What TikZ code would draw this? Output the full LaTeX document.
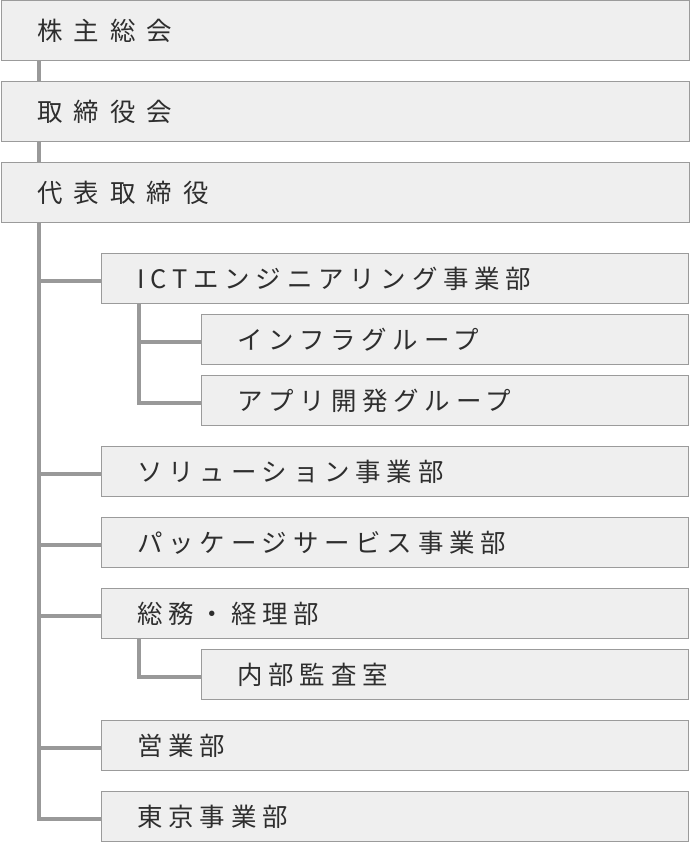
\documentclass[tikz,border=0pt]{standalone}
\usepackage{fontspec}
\newfontfamily\jpone{Noto Sans CJK JP}[LetterSpace=43.5]
\newfontfamily\jptwo{Noto Sans CJK JP}[LetterSpace=22.7]
\definecolor{boxfill}{HTML}{EFEFEF}
\definecolor{boxline}{HTML}{9B9B9B}
\definecolor{connline}{HTML}{999999}
\definecolor{txt}{HTML}{2E2E2E}
\begin{document}
\begin{tikzpicture}[x=0.75pt,y=-0.75pt,
  box/.style={draw=boxline, line width=0.75pt, fill=boxfill, anchor=north west,
    inner xsep=27pt, inner ysep=0pt, align=left, text=txt},
  lvlone/.style={box, minimum height=45pt, text width=462pt,
    font=\jpone\fontsize{19.1pt}{21pt}\selectfont},
  lvltwo/.style={box, minimum height=37.5pt, text width=386.25pt,
    font=\jptwo\fontsize{19.1pt}{21pt}\selectfont},
  lvlthree/.style={box, minimum height=37.5pt, text width=311.25pt,
    font=\jptwo\fontsize{19.1pt}{21pt}\selectfont},
  conn/.style={draw=connline, line width=2.8pt, line join=miter}
]
\useasboundingbox (0,0) rectangle (689,842);
\node[lvlone] (b1) at (0.5,0.5) {株主総会};
\node[lvlone] (b2) at (0.5,81) {取締役会};
\node[lvlone] (b3) at (0.5,162) {代表取締役};
\node[lvltwo] (ict) at (101,253) {ICTエンジニアリング事業部};
\node[lvlthree] (infra) at (201,314) {インフラグループ};
\node[lvlthree] (app) at (201,375) {アプリ開発グループ};
\node[lvltwo] (sol) at (101,446) {ソリューション事業部};
\node[lvltwo] (pkg) at (101,517) {パッケージサービス事業部};
\node[lvltwo] (gen) at (101,588) {総務・経理部};
\node[lvlthree] (aud) at (201,649) {内部監査室};
\node[lvltwo] (sales) at (101,720) {営業部};
\node[lvltwo] (tokyo) at (101,791) {東京事業部};
\coordinate (t) at (39,0);
\coordinate (s) at (139,0);
\draw[conn] (b1.south -| t) -- (b2.north -| t);
\draw[conn] (b2.south -| t) -- (b3.north -| t);
\foreach \n in {ict,sol,pkg,gen,sales,tokyo}
  \draw[conn] (b3.south -| t) |- ([yshift=-1.9pt]\n.west);
\draw[conn] (ict.south -| s) |- ([yshift=-1.9pt]infra.west);
\draw[conn] (ict.south -| s) |- ([yshift=-1.9pt]app.west);
\draw[conn] (gen.south -| s) |- ([yshift=-1.9pt]aud.west);
\end{tikzpicture}
\end{document}
